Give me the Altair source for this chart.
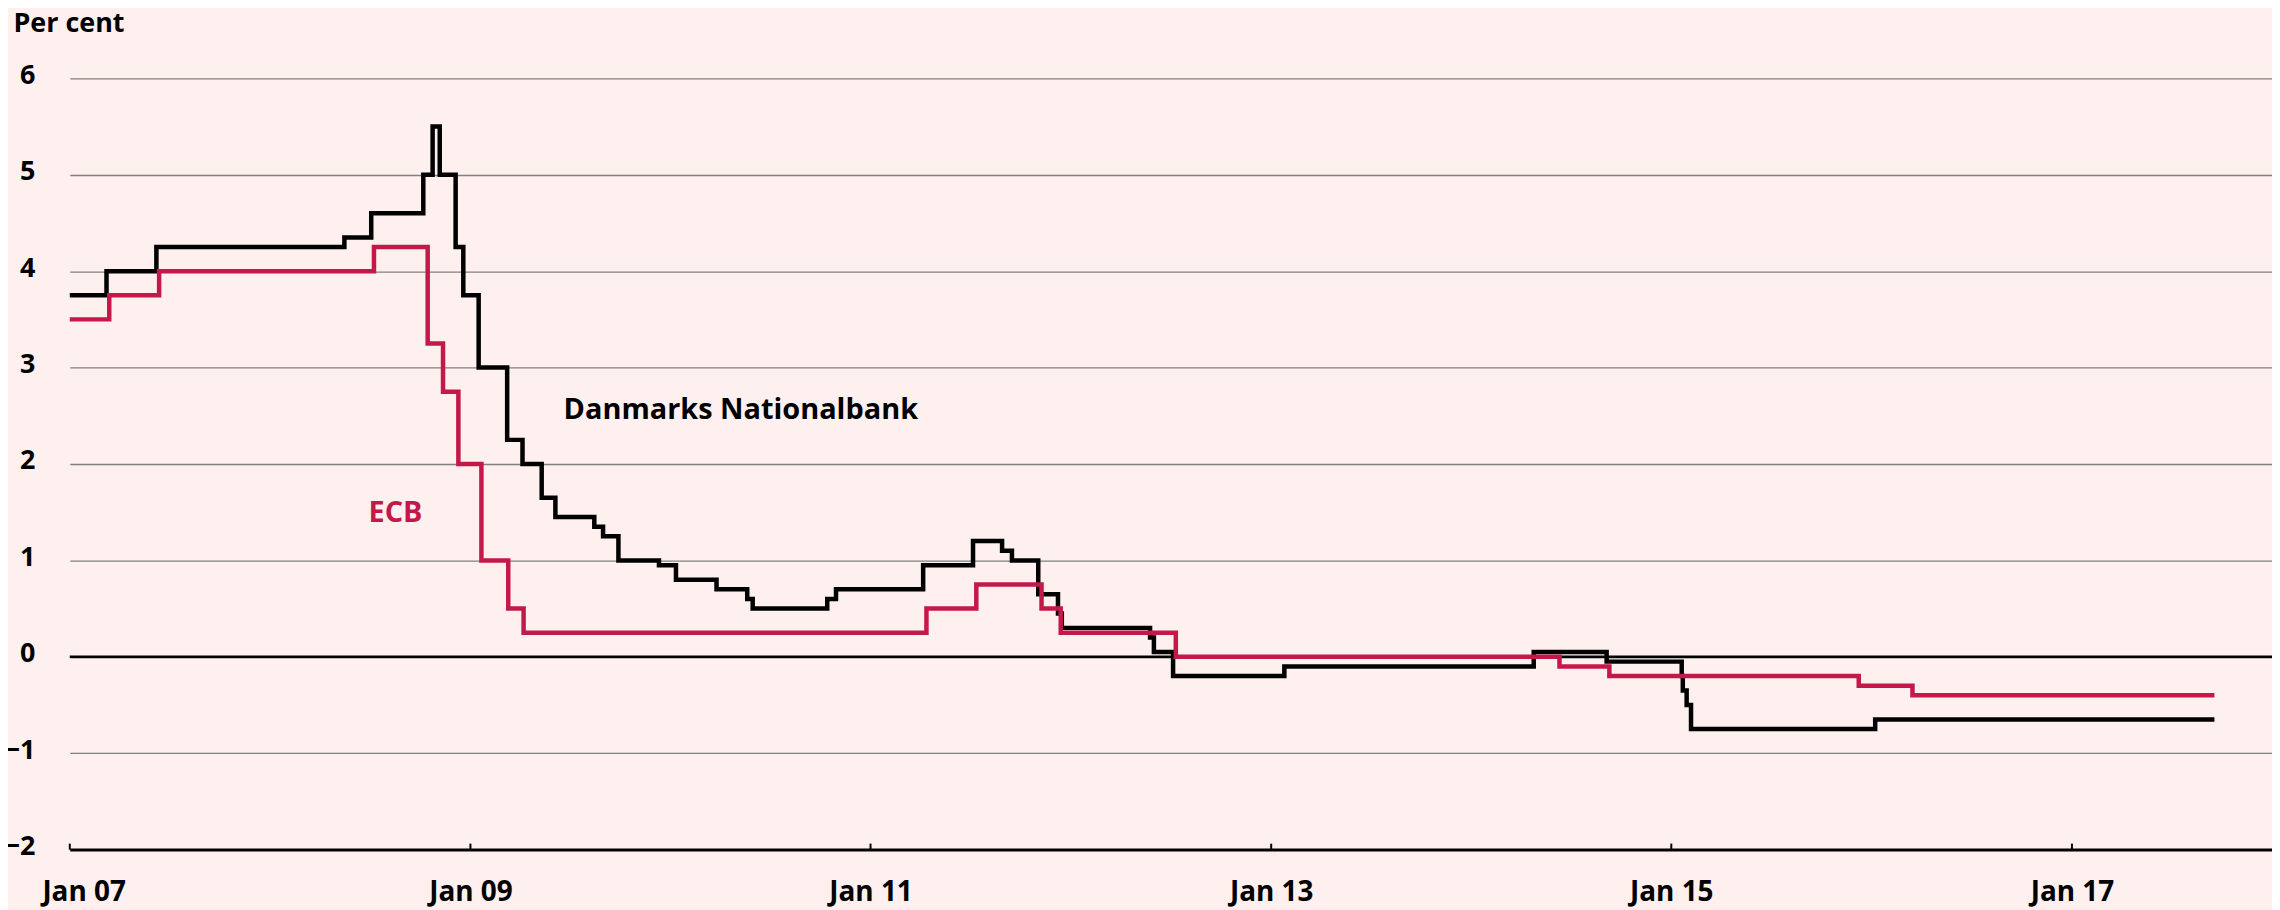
import altair as alt
import pandas as pd

# ---------------- data ----------------
dn_dates = ["2007-01-01", "2007-03-09", "2007-06-08", "2008-05-16", "2008-07-04",
            "2008-10-07", "2008-10-24", "2008-11-06", "2008-12-05", "2008-12-19",
            "2009-01-16", "2009-03-09", "2009-04-06", "2009-05-11", "2009-06-05",
            "2009-08-15", "2009-08-31", "2009-09-28", "2009-12-11", "2010-01-11",
            "2010-03-26", "2010-05-21", "2010-05-31", "2010-10-14", "2010-10-30",
            "2011-04-07", "2011-07-07", "2011-08-29", "2011-09-16", "2011-11-03",
            "2011-12-09", "2011-12-16", "2012-05-25", "2012-06-01", "2012-07-06",
            "2013-01-25", "2014-04-25", "2014-09-05", "2015-01-20", "2015-01-22",
            "2015-01-29", "2015-02-06", "2016-01-08", "2017-09-18"]
dn_values = [3.75, 4.00, 4.25, 4.35, 4.60,
             5.00, 5.50, 5.00, 4.25, 3.75,
             3.00, 2.25, 2.00, 1.65, 1.45,
             1.35, 1.25, 1.00, 0.95, 0.80,
             0.70, 0.60, 0.50, 0.60, 0.70,
             0.95, 1.20, 1.10, 1.00, 0.65,
             0.45, 0.30, 0.20, 0.05, -0.20,
             -0.10, 0.05, -0.05, -0.20, -0.35,
             -0.50, -0.75, -0.65, -0.65]

ecb_dates = ["2007-01-01", "2007-03-14", "2007-06-13", "2008-07-09", "2008-10-15",
             "2008-11-12", "2008-12-10", "2009-01-21", "2009-03-11", "2009-04-08",
             "2011-04-13", "2011-07-13", "2011-11-09", "2011-12-14", "2012-07-11",
             "2014-06-11", "2014-09-10", "2015-12-09", "2016-03-16", "2017-09-18"]
ecb_values = [3.50, 3.75, 4.00, 4.25, 3.25,
              2.75, 2.00, 1.00, 0.50, 0.25,
              0.50, 0.75, 0.50, 0.25, 0.00,
              -0.10, -0.20, -0.30, -0.40, -0.40]

series_names = ["Danmarks Nationalbank", "ECB"]
series_colors = ["#000000", "#C4184A"]

label_texts = ["Danmarks Nationalbank", "ECB"]
label_dates = ["2009-06-20", "2008-06-29"]
label_values = [2.465, 1.40]

tick_dates = ["2007-01-01", "2009-01-01", "2011-01-01", "2013-01-01",
              "2015-01-01", "2017-01-01"]
y_ticks = [-2, -1, 0, 1, 2, 3, 4, 5, 6]

# ---------------- layout ----------------
PLOT_W = 2210
PLOT_H = 774
FONT = "Open Sans"
BG = "#FDF0EE"

df = pd.concat([
    pd.DataFrame({"date": dn_dates, "rate": dn_values, "series": series_names[0]}),
    pd.DataFrame({"date": ecb_dates, "rate": ecb_values, "series": series_names[1]}),
])
labels_df = pd.DataFrame({"date": label_dates, "rate": label_values,
                          "text": label_texts, "series": series_names})
ticks_df = pd.DataFrame({"date": tick_dates})
zero_df = pd.DataFrame({"rate": [0]})

x_scale = alt.Scale(type="utc",
                    domain=[alt.DateTime(year=2007, month=1, date=1, utc=True),
                            alt.DateTime(year=2018, month=1, date=1, utc=True)])
y_scale = alt.Scale(domain=[-2, 6], nice=False, zero=False)
color_scale = alt.Scale(domain=series_names, range=series_colors)

x_axis = alt.Axis(
    values=[alt.DateTime(year=int(d[:4]), month=1, date=1, utc=True) for d in tick_dates],
    format="%b %y", title=None, grid=False, ticks=False, tickSize=0,
    domain=True, domainColor="#000000", domainWidth=3,
    labelFont=FONT, labelFontSize=28, labelFontWeight=700, labelColor="#000000",
    labelBaseline="alphabetic", labelPadding=51,
    labelFlush=1, labelFlushOffset=28,
)
y_axis = alt.Axis(
    values=y_ticks, title="Per cent", titleAngle=0, titleAlign="left",
    titleBaseline="alphabetic", titleX=-57, titleY=-47,
    titleFont=FONT, titleFontSize=27, titleFontWeight=700, titleColor="#000000",
    grid=True, gridColor="#808080", gridWidth=1.3, domain=False, ticks=False,
    tickSize=0, labelPadding=35, labelFont=FONT, labelFontSize=27,
    labelFontWeight=700, labelColor="#000000", labelAlign="right",
    labelBaseline="alphabetic", labelOffset=5,
)

base_x = alt.X("date:T", scale=x_scale, axis=x_axis)
base_y = alt.Y("rate:Q", scale=y_scale, axis=y_axis)

zero_rule = alt.Chart(zero_df).mark_rule(color="#000000", strokeWidth=2.5).encode(
    y=alt.Y("rate:Q", scale=y_scale, axis=y_axis)
)

tick_rules = alt.Chart(ticks_df).mark_rule(color="#000000", strokeWidth=2).encode(
    x=alt.X("date:T", scale=x_scale, axis=x_axis),
    y=alt.value(PLOT_H),
    y2=alt.value(PLOT_H - 6),
)

def step_line(name):
    return alt.Chart(df).transform_filter(
        alt.datum.series == name
    ).mark_line(interpolate="step-after", strokeWidth=4.5, strokeJoin="miter").encode(
        x=base_x, y=base_y,
        color=alt.Color("series:N", scale=color_scale, legend=None),
    )

dn_line = step_line(series_names[0])
ecb_line = step_line(series_names[1])

texts = alt.Chart(labels_df).mark_text(
    align="left", baseline="alphabetic", font=FONT, fontSize=29, fontWeight=700
).encode(
    x=base_x, y=base_y,
    text="text:N",
    color=alt.Color("series:N", scale=color_scale, legend=None),
)

chart = alt.layer(zero_rule, tick_rules, dn_line, ecb_line, texts).properties(
    width=PLOT_W, height=PLOT_H,
    autosize=alt.AutoSizeParams(type="none"),
    padding={"left": 62, "top": 69, "right": 0, "bottom": 60},
).configure(
    background=BG,
).configure_view(stroke=None)

chart.save("out.html", embed_options={"renderer": "svg", "actions": False})
